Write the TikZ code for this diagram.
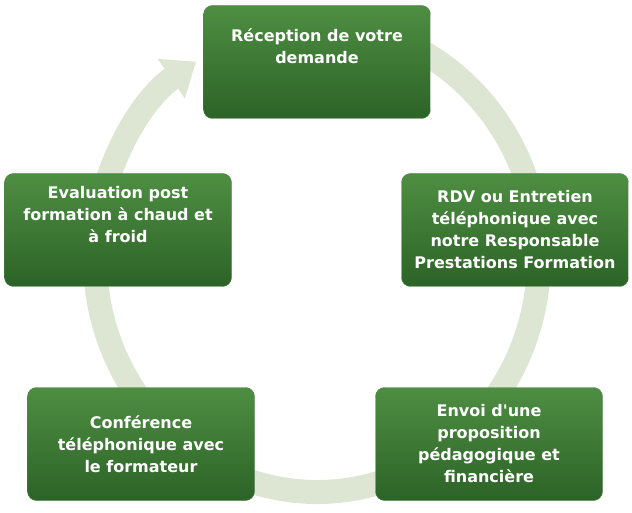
\documentclass[tikz,border=0pt]{standalone}
\usepackage{fontspec}
\setmainfont{DejaVu Sans}
\usetikzlibrary{arrows.meta,positioning}
\definecolor{boxtop}{HTML}{4E8E42}
\definecolor{boxbot}{HTML}{2C6327}
\definecolor{ringcol}{HTML}{DDE5D3}
\tikzset{etape/.style={draw=boxbot!80!white, rounded corners=9pt, top color=boxtop, bottom color=boxbot,
  text=white, font=\bfseries\fontsize{16}{22}\selectfont, align=center,
  minimum width=227pt, minimum height=113pt, inner sep=2pt}}
\begin{document}
\begin{tikzpicture}[x=1pt,y=1pt]
	\useasboundingbox (0,0) rectangle (632,512);
	% anneau
	\draw[ringcol, line width=24pt, -{Triangle[width=46pt,length=30pt]}]
		(317,254) ++(80:222 and 234) arc[start angle=80, end angle=-237, x radius=222, y radius=234];
	\node[etape] (recep) at (317,450) {Réception de votre\\demande\\[10pt]};
	\node[etape] (rdv) at (515,282) {RDV ou Entretien\\téléphonique avec\\notre Responsable\\Prestations Formation};
	\node[etape] (envoi) at (489,68) {Envoi d\textquotesingle une\\proposition\\pédagogique et\\financière};
	\node[etape] (conf) at (141,68) {Conférence\\téléphonique avec\\le formateur};
	\node[etape] (eval) at (118,282) {Evaluation post\\formation à chaud et\\à froid\\[10pt]};
\end{tikzpicture}
\end{document}
